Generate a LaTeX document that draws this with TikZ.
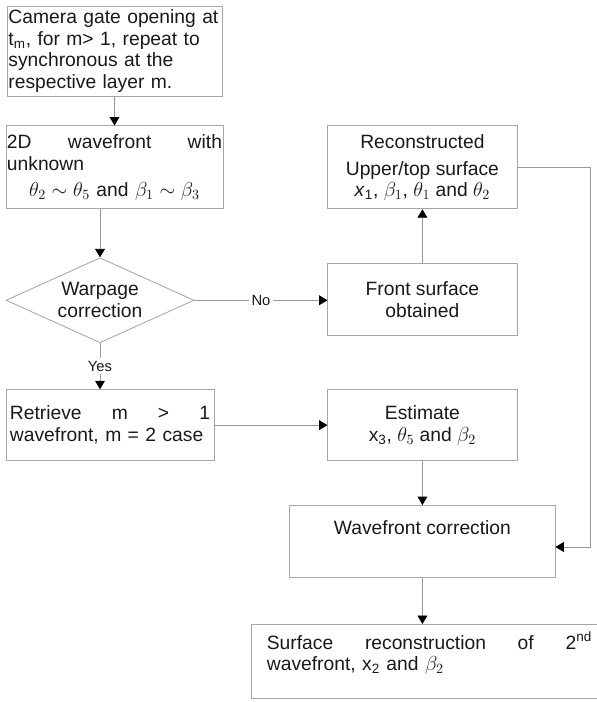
\documentclass[tikz,border=0pt]{standalone}
\usepackage{fontspec}
\setmainfont{Liberation Sans}
\usetikzlibrary{shapes.geometric, positioning, arrows.meta}
\tikzset{
every node/.style={font=\fontsize{13.7pt}{15.5pt}\selectfont, text=black!90}, % body text of the chart
block/.style={draw=black!35, line width=0.6pt, rectangle, inner xsep=0.1cm, inner ysep=0.05cm}, % plain process box
decision/.style={draw=black!35, line width=0.6pt, diamond, aspect=2.4, inner sep=0pt, minimum width=4.7cm, minimum height=2.125cm, align=center},
answer/.style={font=\fontsize{10.5pt}{12pt}\selectfont, fill=white, inner sep=2pt}, % yes / no on the edges
line/.style={draw=black!40, line width=0.6pt, -{Triangle[width=7pt,length=6pt,color=black]}},
}

\begin{document}
\begin{tikzpicture}[x=0.025cm, y=-0.025cm]
        \useasboundingbox (0,0) rectangle (597,702);

        % left column
        \node[block, inner xsep=0.0375cm, text width=5.3cm, minimum height=2.25cm, align=left] (camera) at (114.5,51)
            {Camera gate opening at\\ t\textsubscript{m}, for m> 1, repeat to\\ synchronous at the\\ respective layer m.};
        \node[block, inner xsep=0.025cm, text width=5.375cm, minimum height=2.075cm, align=left, below=0.725cm of camera] (wave2d)
            {\makebox[\linewidth]{2D\hfill wavefront\hfill with}\\ unknown\\[3pt] \makebox[\linewidth][c]{$\theta_2\sim\theta_5$ and $\beta_1\sim\beta_3$}};
        \node[decision, below=1.2cm of wave2d, xshift=-0.3625cm] (warp) {Warpage\\ correction};
        \node[block, text width=5.0cm, minimum height=1.775cm, align=left, below=1.15cm of warp, xshift=0.25cm] (retrieve)
            {\makebox[\linewidth]{Retrieve\hfill m\hfill >\hfill 1}\\ wavefront, m = 2 case};

        % right column
        \node[block, minimum width=4.725cm, minimum height=2.075cm, align=center, right=2.6cm of wave2d] (recon)
            {Reconstructed\\[4pt] Upper/top surface\\[-1pt] \textit{x}\textsubscript{1}, $\beta_1$, $\theta_1$ and $\theta_2$};
        \node[block, minimum width=4.725cm, minimum height=1.8cm, align=center, below=1.35cm of recon] (front)
            {Front surface\\ obtained};
        \node[block, minimum width=4.725cm, minimum height=1.775cm, align=center, right=2.825cm of retrieve] (estimate)
            {Estimate\\ x\textsubscript{3}, $\theta_5$ and $\beta_2$};
        \node[block, minimum width=6.625cm, minimum height=1.8cm, align=center, below=1.1cm of estimate] (wavecorr)
            {Wavefront correction\\ \strut};
        \node[block, inner xsep=0.375cm, text width=8.125cm, minimum height=1.85cm, align=left,
              below=1.15cm of wavecorr.south west, anchor=north west, xshift=-0.95cm] (surface)
            {\makebox[\linewidth]{Surface\hfill reconstruction\hfill of\hfill 2\textsuperscript{nd}}\\ wavefront, x\textsubscript{2} and $\beta_2$\\[-6pt] \strut};

        \coordinate (loop) at (590,547);

        \draw[line] (camera.south) -- (wave2d.north);
        \draw[line] (warp.north |- wave2d.south) -- (warp.north);
        \draw[line] (warp.east) -- node[answer]{No} (warp.east -| front.west);
        \draw[line] (warp.south) -- node[answer]{Yes} (warp.south |- retrieve.north);
        \draw[line] (front.north) -- (recon.south);
        \draw[line] (retrieve.east) -- (estimate.west);
        \draw[line] (estimate.south) -- (wavecorr.north);
        \draw[line] (recon.east) -| (loop) -- (loop -| wavecorr.east);
        \draw[line] (wavecorr.south) -- (wavecorr.south |- surface.north);
      \end{tikzpicture}
\end{document}
